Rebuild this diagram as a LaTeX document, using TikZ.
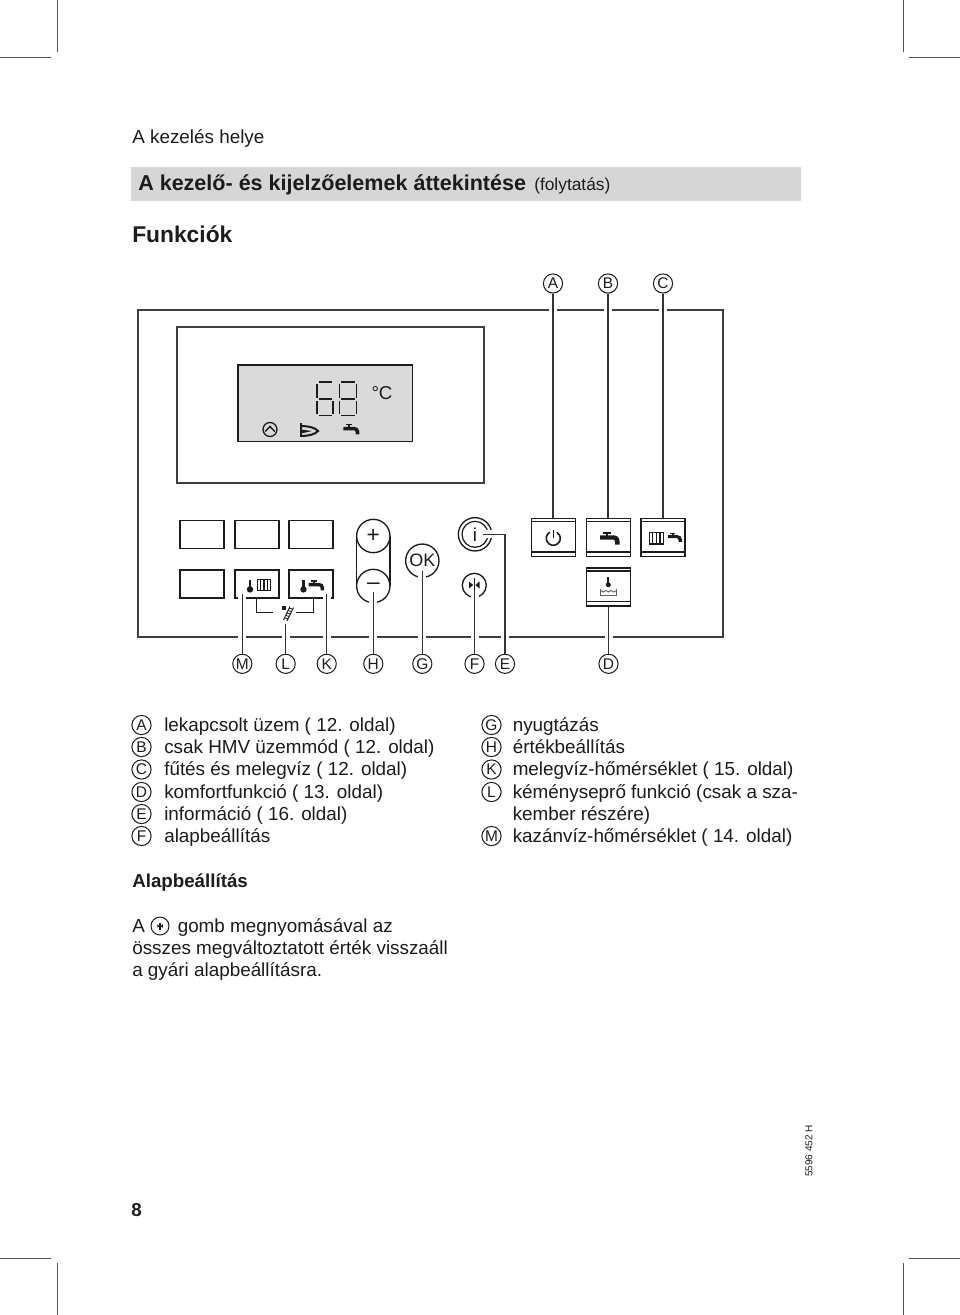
\documentclass[tikz,border=0pt]{standalone}
\usepackage{fontspec}
\usetikzlibrary{calc}
\setmainfont{Liberation Sans}
\definecolor{ink}{HTML}{1C1C1C}
\definecolor{barg}{HTML}{D6D6D6}
\definecolor{lcdg}{HTML}{DADADA}
\definecolor{cropg}{HTML}{555555}
\tikzset{
  x=0.75pt,y=-0.75pt,
  body/.style={anchor=base west,inner sep=0pt,text=ink,font=\fontsize{14.15pt}{16pt}\selectfont},
  bold/.style={anchor=base west,inner sep=0pt,text=ink,font=\bfseries\fontsize{14.05pt}{16pt}\selectfont},
  letter/.style={circle,draw=ink,line width=0.75pt,minimum size=14.4pt,inner sep=0pt,text=ink,font=\fontsize{11.6pt}{12pt}\selectfont},
  plainbtn/.style={rectangle,draw=ink,line width=1.1pt,minimum width=33pt,minimum height=21pt,inner sep=0pt},
  btn/.style={rectangle,draw=ink,line width=1.1pt,minimum width=33pt,minimum height=28.5pt,inner sep=0pt},
  conn/.style={preaction={draw=white,line width=6pt},draw=ink!90,line width=0.8pt},
  roundbtn/.style={circle,draw=ink,line width=1pt,inner sep=0pt,fill=white,text=ink},
  crop/.style={draw=cropg,line width=0.6pt},
  tapicon/.pic={
    \fill[ink] (-10,-3.2) -- (-10,1) -- (3,1) .. controls (4.6,1) and (5,2) .. (5,3.5) -- (5,6) -- (9.5,6) -- (9.5,2.5) .. controls (9.5,-1) and (7,-3.2) .. (3.5,-3.2) -- cycle;
    \fill[ink] (-4.5,-6) rectangle (-2,-3);
    \fill[ink] (-7,-6.6) rectangle (0.5,-4.9);
  },
  thermicon/.pic={
    \fill[ink] (0,3.6) circle (3.4);
    \fill[ink] (-1.2,-6.5) rectangle (1.2,2);
  },
  radicon/.pic={
    \draw[ink,line width=0.9pt] (-7.2,-5.8) rectangle (7.2,5.8);
    \foreach \xx in {-3.6,0,3.6} \draw[ink,line width=1.1pt] (\xx,-5.8) -- (\xx,5.8);
  },
  digicon/.pic={
    \draw[ink,line width=1.05pt,line cap=butt]
      (1.5,0) -- (14.5,0) (1.5,33.5) -- (14.5,33.5) (1.5,17) -- (14.5,17)
      (0,1.5) -- (0,15.5) (0,18.5) -- (0,32) (16,18.5) -- (16,32);
  },
  fsymbol/.pic={
    \fill[ink] (-5.5,-3.6) -- (-1.2,0) -- (-5.5,3.6) -- cycle;
    \fill[ink] (5.5,-3.6) -- (1.2,0) -- (5.5,3.6) -- cycle;
    \draw[ink,line width=0.8pt] (0,-7) -- (0,7);
  }
}
\begin{document}
\begin{tikzpicture}
\useasboundingbox (0,0) rectangle (960,1315);
\fill[white] (0,0) rectangle (960,1315);
% crop marks
\draw[crop] (57,0) -- (57,52) (0,57) -- (51,57);
\draw[crop] (903,0) -- (903,52) (909,57) -- (960,57);
\draw[crop] (57,1263) -- (57,1315) (0,1258) -- (51,1258);
\draw[crop] (903,1263) -- (903,1315) (909,1258) -- (960,1258);
% header
\node[body] (hdr) at (132,143) {A kezelés helye};
\fill[barg] (131,167) rectangle (801,201);
\node[bold,font=\bfseries\fontsize{16.15pt}{18pt}\selectfont] (ttl) at (138,190) {A kezelő- és kijelzőelemek áttekintése};
\node[body,font=\fontsize{13pt}{14pt}\selectfont] (ttl2) at (534,190.5) {(folytatás)};
\node[bold,font=\bfseries\fontsize{17.1pt}{19pt}\selectfont] (fun) at (132,242.5) {Funkciók};
% panel
\draw[ink!85,line width=1.3pt] (138,310) rectangle (723,637);
\draw[ink!85,line width=1.2pt] (177,327) rectangle (484,483);
\draw[ink,line width=1.1pt,fill=lcdg] (238,365) rectangle (412.5,441.5);
\pic at (317,382) {digicon};
\draw[ink,line width=1.05pt] (341,382) -- +(14,0) (341,415.5) -- +(14,0) (341,399) -- +(14,0)
  (339.5,383.5) -- +(0,14) (339.5,400.5) -- +(0,13.5) (356.5,383.5) -- +(0,14) (356.5,400.5) -- +(0,13.5);
\node[inner sep=0pt,text=ink,font=\fontsize{14pt}{16pt}\selectfont] (deg) at (382,393) {°C};
\node[circle,draw=ink,line width=1pt,minimum size=10.5pt,inner sep=0pt] (pump) at (270,429.5) {};
\draw[ink,line width=1.1pt] (265.2,431.5) -- (270,426.5) -- (274.8,431.5);
\draw[ink,line width=1.9pt] (301,423) -- (301,437);
\draw[ink,line width=1.5pt] (301,426) .. controls (309,426) and (316,428) .. (318,431) .. controls (315,434.5) and (308,436) .. (301,436);
\fill[ink] (301,429.5) -- (312,431) -- (301,433.5) -- cycle;
\pic[scale=0.82] at (351.5,429.5) {tapicon};
% plain buttons
\node[plainbtn] (p1) at (202,534.5) {};
\node[plainbtn] (p2) at (257,534.5) {};
\node[plainbtn] (p3) at (311,534.5) {};
\node[plainbtn] (p4) at (202,584) {};
\node[plainbtn] (bM) at (257,584) {};
\node[plainbtn] (bK) at (311,584) {};
\pic[scale=0.95] at (250,586) {thermicon};
\pic[scale=0.95] at (264,585) {radicon};
\pic[scale=0.95] at (303.5,586) {thermicon};
\pic[scale=0.8] at (316.5,585.5) {tapicon};
% bracket and chimney sweep
\coordinate (brL) at (256.7,598);
\coordinate (brR) at (313.3,598);
\coordinate (brLe) at (273,612.7);
\coordinate (brRe) at (296,612.7);
\draw[ink,line width=0.8pt] (brL) |- (brLe);
\draw[ink,line width=0.8pt] (brR) |- (brRe);
\fill[ink] (282,606) rectangle (285.5,609.5);
\draw[ink,line width=0.7pt] (290,606.5) -- (283.5,620) (293.5,607.5) -- (287,621);
\foreach \t in {0.12,0.3,0.48,0.66,0.84}
  \draw[ink,line width=0.6pt] ($(290,606.5)!\t!(283.5,620)$) -- ($(293.5,607.5)!\t!(287,621)$);
% round controls
\draw[ink,line width=1pt] (356.7,536) -- (356.7,586) (390,536) -- (390,586);
\node[roundbtn,minimum size=25pt,font=\fontsize{17pt}{18pt}\selectfont] (plus) at (373.3,536) {+};
\node[roundbtn,minimum size=25pt,font=\fontsize{17pt}{18pt}\selectfont] (minus) at (373.3,586) {–};
\node[roundbtn,minimum size=25pt,font=\fontsize{13.5pt}{18pt}\selectfont] (ok) at (422.3,560.7) {OK};
\node[roundbtn,minimum size=18pt] (fb) at (474.3,585.3) {};
\pic[scale=0.95] at (474.3,585) {fsymbol};
\node[roundbtn,minimum size=25pt,font=\fontsize{14pt}{16pt}\selectfont] (info) at (475,534.3) {};
\node[circle,draw=ink,line width=0.9pt,minimum size=19.5pt,inner sep=0pt,text=ink,font=\fontsize{14pt}{16pt}\selectfont] (infoin) at (475,534.3) {i};
% right buttons
\node[btn] (bA) at (553.5,537.5) {};
\node[btn] (bB) at (608.5,537.5) {};
\node[btn] (bC) at (663,537.5) {};
\node[btn] (bD) at (608.5,586.8) {};
\foreach \n in {bA,bB,bC,bD}{
  \draw[ink,line width=1pt] ([yshift=-3pt]\n.north west) -- ([yshift=-3pt]\n.north east);
  \draw[ink,line width=1pt] ([yshift=4pt]\n.south west) -- ([yshift=4pt]\n.south east);
}
\draw[ink,line width=1.2pt] (549.8,532.2) arc[start angle=-120,end angle=-420,radius=7] ;
\draw[ink,line width=1.2pt] (553.3,530) -- (553.3,538);
\pic at (610,538.5) {tapicon};
\pic[scale=1] at (656.3,538.2) {radicon};
\pic[scale=0.72] at (675,537.5) {tapicon};
% comfort icon
\pic[scale=0.75] at (608.3,582) {thermicon};
\draw[ink!70,line width=0.6pt] (600.5,589) -- (600.5,595.5) -- (616.5,595.5) -- (616.5,589);
\draw[ink!70,line width=0.7pt] (600.5,590.5) .. controls (602.5,592.5) and (604,592.5) .. (606,590.5) .. controls (608,592.5) and (609.5,592.5) .. (611,590.5) .. controls (613,592.5) and (614.5,592.5) .. (616.5,590.5);
% labels
\node[letter] (lA) at (553,283.5) {A};
\node[letter] (lB) at (608,283.5) {B};
\node[letter] (lC) at (663,283.5) {C};
\node[letter] (lM) at (242.3,663.8) {M};
\node[letter] (lL) at (285.7,663.8) {L};
\node[letter] (lK) at (326.7,663.8) {K};
\node[letter] (lH) at (373.3,663.8) {H};
\node[letter] (lG) at (422.3,663.8) {G};
\node[letter] (lF) at (474.5,663.8) {F};
\node[letter] (lE) at (505,663.8) {E};
\node[letter] (lD) at (608.5,663.8) {D};
% connector ends inside controls
\coordinate (eM) at (242.3,594);
\coordinate (eL) at (285.7,624);
\coordinate (eK) at (326.7,594);
\coordinate (eH) at (373.3,592);
\coordinate (eG) at (422.3,571);
\coordinate (eF) at (474.5,591);
\coordinate (eE) at (483,534.3);
\coordinate (eEc) at (505,534.3);
\draw[conn] (lA.south) -- (bA.north -| lA.south);
\draw[conn] (lB.south) -- (bB.north -| lB.south);
\draw[conn] (lC.south) -- (bC.north -| lC.south);
\draw[conn] (lD.north) -- (bD.south -| lD.north);
\draw[conn] (lM.north) -- (eM);
\draw[conn] (lL.north) -- (eL);
\draw[conn] (lK.north) -- (eK);
\draw[conn] (lH.north) -- (eH);
\draw[conn] (lG.north) -- (eG);
\draw[conn] (lF.north) -- (eF);
\draw[conn] (lE.north) -- (eEc) -- (eE);
% list left
\foreach \nm/\ltr/\yy/\txt in {
  a/A/725/{lekapcsolt üzem ( 12. oldal)},
  b/B/747/{csak HMV üzemmód ( 12. oldal)},
  c/C/769.5/{fűtés és melegvíz ( 12. oldal)},
  d/D/792/{komfortfunkció ( 13. oldal)},
  e/E/814/{információ ( 16. oldal)},
  f/F/836/{alapbeállítás}}{
  \node[letter] (c\nm) at (141.5,\yy) {\ltr};
  \node[body] (t\nm) at (164,\yy+6) {\txt};
}
% list right
\foreach \nm/\ltr/\yy/\txt in {
  g/G/725/{nyugtázás},
  h/H/747/{értékbeállítás},
  k/K/769.5/{melegvíz-hőmérséklet ( 15. oldal)},
  l/L/792/{kéményseprő funkció (csak a sza-},
  m/M/836/{kazánvíz-hőmérséklet ( 14. oldal)}}{
  \node[letter] (c\nm) at (491.5,\yy) {\ltr};
  \node[body] (t\nm) at (512.5,\yy+6) {\txt};
}
\node[body] (tl2) at (512.5,820) {kember részére)};
% Alapbeállítás
\node[bold] (alap) at (132,887) {Alapbeállítás};
\node[body] (pa) at (132,932) {A};
\node[circle,draw=ink,line width=0.75pt,minimum size=13.5pt,inner sep=0pt] (psym) at (160,926) {};
\pic[scale=0.5] at (160,926) {fsymbol};
\node[body] (pb) at (177.5,932) {gomb megnyomásával az};
\node[body] (pc) at (132,954) {összes megváltoztatott érték visszaáll};
\node[body] (pd) at (132,976) {a gyári alapbeállításra.};
% page footer
\node[bold] (pg) at (131,1216) {8};
\node[inner sep=0pt,rotate=90,text=ink,font=\fontsize{7.5pt}{9pt}\selectfont] (code) at (809,1151) {5596 452 H};
\end{tikzpicture}
\end{document}
